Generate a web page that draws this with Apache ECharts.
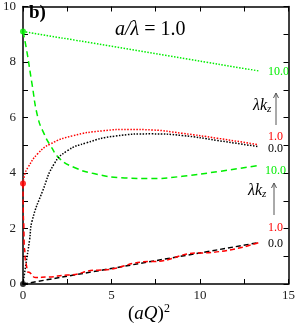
<!DOCTYPE html>
<html><head><meta charset="utf-8">
<script src="https://cdn.jsdelivr.net/npm/echarts@6/dist/echarts.min.js"></script>
<style>html,body{margin:0;padding:0;background:#fff}#c{width:298px;height:327px}</style>
</head><body><div id="c"></div>
<script>
// ---- data ----
const xTicks = [0, 5, 10, 15];
const yTicks = [0, 2, 4, 6, 8, 10];

const greenDotX = [0, 13.3];
const greenDotY = [9.1, 7.68];

const greenDashX = [0, 0.2, 0.5, 0.84, 1.2, 1.56, 2.1, 2.9, 4.0, 5.75, 7.26, 9, 11, 13.3];
const greenDashY = [9.1, 8.45, 7.25, 6.0, 5.4, 4.98, 4.5, 4.2, 3.98, 3.82, 3.8, 3.88, 4.05, 4.27];

const redDotX = [0, 0.1, 0.28, 0.84, 1.56, 2.8, 4.5, 6, 7.3, 9, 11, 13.3];
const redDotY = [3.62, 3.95, 4.2, 4.7, 5.05, 5.34, 5.52, 5.57, 5.55, 5.43, 5.25, 5.02];

const blackDotX = [0, 0.15, 0.37, 0.52, 1.12, 1.77, 2.5, 3.6, 5.2, 7.26, 9, 11, 13.3];
const blackDotY = [0, 0.65, 1.58, 2.29, 3.37, 4.34, 4.8, 5.09, 5.33, 5.41, 5.35, 5.17, 4.95];

const redDashX = [0, 0.03, 0.08, 0.15, 0.28, 0.72, 1.4, 2.5, 4.2, 7.26, 10, 13.3];
const redDashY = [3.62, 2.3, 1.3, 0.75, 0.43, 0.23, 0.25, 0.32, 0.5, 0.81, 1.12, 1.49];

const blackDashX = [0, 13.3];
const blackDashY = [0, 1.49];

const startX = [0, 0, 0];
const startY = [9.1, 3.62, 0];

const zip = (xs, ys) => xs.map((x, i) => [x, ys[i]]);

const SERIF = '"Liberation Serif","DejaVu Serif",serif';
const GREEN = '#00ee00', RED = '#ff0000', BLACK = '#000000';

const chart = echarts.init(document.getElementById('c'), null, {renderer: 'canvas'});

function line(data, color, type, width, mono) {
  return {type: 'line', data: data, showSymbol: false, smooth: 0.5, smoothMonotone: mono ? 'x' : null,
    lineStyle: {color: color, type: type, width: width || 1.4}, z: 3, animation: false};
}

const axisCommon = {
  axisLine: {show: true, onZero: false, lineStyle: {color: '#000', width: 1.5}},
  axisTick: {show: true, inside: true, length: 5, lineStyle: {color: '#000', width: 1}},
  minorTick: {show: true, splitNumber: 2, length: 5, lineStyle: {color: '#000', width: 1}},
  splitLine: {show: false}
};

chart.setOption({
  animation: false,
  grid: {left: 20, right: 9, top: 5, bottom: 43, containLabel: false},
  xAxis: [
    Object.assign({type: 'value', min: xTicks[0], max: xTicks[xTicks.length - 1], interval: 5, position: 'bottom',
      axisLabel: {show: true, fontFamily: SERIF, fontSize: 13, color: '#222', margin: 5}}, axisCommon),
    Object.assign({type: 'value', min: 0, max: 15, interval: 5, position: 'top', axisLabel: {show: false}}, axisCommon)
  ],
  yAxis: [
    Object.assign({type: 'value', min: yTicks[0], max: yTicks[yTicks.length - 1], interval: 2, position: 'left',
      axisLabel: {show: true, fontFamily: SERIF, fontSize: 13, color: '#222', margin: 7}}, axisCommon),
    Object.assign({type: 'value', min: 0, max: 10, interval: 2, position: 'right', axisLabel: {show: false}}, axisCommon)
  ],
  series: [
    line(zip(greenDotX, greenDotY), GREEN, [1.5, 1.5], 1.5),
    line(zip(greenDashX, greenDashY), GREEN, [6, 4], 1.5),
    line(zip(blackDotX, blackDotY), BLACK, [1.5, 1.5], 1.5),
    line(zip(redDotX, redDotY), RED, [1.5, 1.5], 1.5),
    line(zip(blackDashX, blackDashY), BLACK, [5, 3], 1.5),
    line(zip(redDashX, redDashY), RED, [5, 3], 1.5, true),
    {type: 'scatter', data: zip(startX, startY), symbolSize: 6, z: 5, animation: false,
      itemStyle: {color: function (p) { return [GREEN, RED, BLACK][p.dataIndex]; }}}
  ],
  graphic: [
    {type: 'text', left: 29, top: 4, style: {text: 'b)', font: 'bold 19px ' + SERIF, fill: '#000'}},
    {type: 'text', left: 115, top: 20, style: {text: '{i|a/λ}{n| = 1.0}',
      rich: {i: {font: 'italic 20px ' + SERIF, fill: '#000'}, n: {font: '20px ' + SERIF, fill: '#000'}}}},
    {type: 'text', left: 128, top: 303, style: {text: '{n|(}{i|aQ}{n|)}{s|2}',
      rich: {i: {font: 'italic 19px ' + SERIF, fill: '#000'}, n: {font: '19px ' + SERIF, fill: '#000'},
        s: {font: '12px ' + SERIF, fill: '#000', verticalAlign: 'top', padding: [0, 0, 10, 0]}}}},
    // right-side labels
    {type: 'text', left: 268, top: 66, style: {text: '10.0', font: '12px ' + SERIF, fill: GREEN}},
    {type: 'text', left: 253, top: 98, style: {text: '{i|λk}{s|z}',
      rich: {i: {font: 'italic 16px ' + SERIF, fill: '#000'}, s: {font: 'italic 11px ' + SERIF, fill: '#000', padding: [7, 0, 0, 0]}}}},
    {type: 'line', shape: {x1: 276, y1: 125, x2: 276, y2: 93}, style: {stroke: '#555', lineWidth: 1}},
    {type: 'polyline', shape: {points: [[273.5, 98], [276, 93], [278.5, 98]]}, style: {stroke: '#555', lineWidth: 1, fill: null}},
    {type: 'text', left: 268, top: 131, style: {text: '1.0', font: '12px ' + SERIF, fill: RED}},
    {type: 'text', left: 268, top: 143, style: {text: '0.0', font: '12px ' + SERIF, fill: '#000'}},
    {type: 'text', left: 265, top: 165, style: {text: '10.0', font: '12px ' + SERIF, fill: GREEN}},
    {type: 'text', left: 248, top: 183, style: {text: '{i|λk}{s|z}',
      rich: {i: {font: 'italic 16px ' + SERIF, fill: '#000'}, s: {font: 'italic 11px ' + SERIF, fill: '#000', padding: [7, 0, 0, 0]}}}},
    {type: 'line', shape: {x1: 274, y1: 215, x2: 274, y2: 183}, style: {stroke: '#555', lineWidth: 1}},
    {type: 'polyline', shape: {points: [[271.5, 188], [274, 183], [276.5, 188]]}, style: {stroke: '#555', lineWidth: 1, fill: null}},
    {type: 'text', left: 268, top: 222, style: {text: '1.0', font: '12px ' + SERIF, fill: RED}},
    {type: 'text', left: 268, top: 238, style: {text: '0.0', font: '12px ' + SERIF, fill: '#000'}}
  ]
});
</script></body></html>
